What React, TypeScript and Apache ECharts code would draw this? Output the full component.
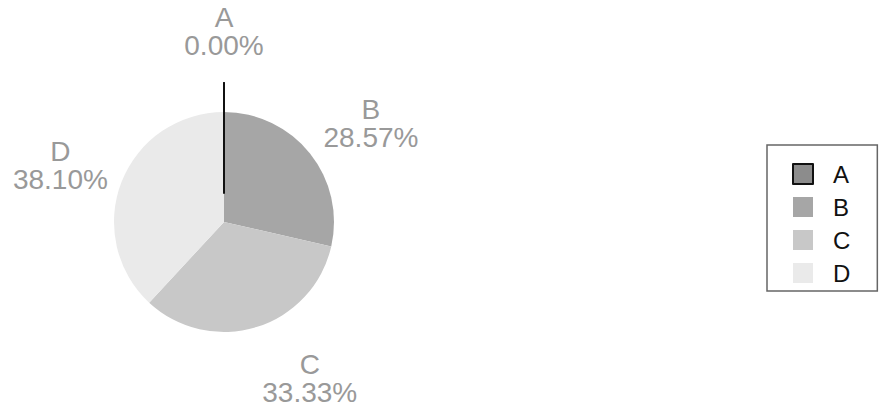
import React, { useEffect, useRef } from "react";
import * as echarts from "echarts";

const categories = ["A", "B", "C", "D"];
const values = [0, 6, 7, 8];
const sliceColors = ["#8c8c8c", "#a6a6a6", "#c8c8c8", "#eaeaea"];

export default function App() {
  const ref = useRef<HTMLDivElement>(null);

  useEffect(() => {
    const chart = echarts.init(ref.current!, null, { renderer: "svg" });
    const pieData = categories.map((name, i) => ({
      name,
      value: values[i],
      selected: i === 0,
      itemStyle:
        i === 0
          ? { color: sliceColors[i], borderColor: "#111", borderWidth: 2 }
          : { color: sliceColors[i] },
    }));
    // overlay: only the (zero-width, offset) A slice edge drawn on top
    const overlayData = categories.map((name, i) => ({
      name,
      value: values[i],
      selected: i === 0,
      itemStyle:
        i === 0
          ? { color: "rgba(0,0,0,0)", borderColor: "#111", borderWidth: 2 }
          : { color: "rgba(0,0,0,0)", borderWidth: 0 },
    }));
    const labelData = categories.map((name, i) => ({ name, value: values[i] }));
    const labelNudge = [
      [0, -12],
      [7, 13],
      [33, -15],
      [3, 9],
    ];

    chart.setOption({
      animation: false,
      backgroundColor: "#ffffff",
      legend: {
        orient: "vertical",
        left: 767,
        top: 145,
        padding: [17, 27, 6, 25],
        itemGap: 9,
        itemWidth: 20,
        itemHeight: 20,
        borderColor: "#666",
        borderWidth: 1.5,
        icon: "rect",
        data: categories,
        textStyle: {
          fontFamily: "'Liberation Sans', Arial, sans-serif",
          fontSize: 24,
          color: "#111",
          padding: [0, 0, 0, 15],
        },
      },
      series: [
        {
          type: "pie",
          center: [224, 222],
          radius: 110,
          startAngle: 90,
          clockwise: true,
          selectedMode: "single",
          selectedOffset: 29,
          label: { show: false },
          labelLine: { show: false },
          emphasis: { disabled: true },
          data: pieData,
        },
        {
          type: "pie",
          z: 3,
          center: [224, 222],
          radius: 110,
          startAngle: 90,
          clockwise: true,
          silent: true,
          selectedMode: "single",
          selectedOffset: 29,
          label: { show: false },
          labelLine: { show: false },
          emphasis: { disabled: true },
          data: overlayData,
        },
        {
          type: "pie",
          center: [224, 222],
          radius: [142, 210],
          startAngle: 90,
          clockwise: true,
          silent: true,
          avoidLabelOverlap: false,
          itemStyle: { color: "rgba(0,0,0,0)" },
          emphasis: { disabled: true },
          labelLine: { show: false },
          label: {
            show: true,
            position: "inside",
            formatter: (p: any) => `${p.name}\n${p.percent.toFixed(2)}%`,
            fontFamily: "'Liberation Sans', Arial, sans-serif",
            fontSize: 28,
            lineHeight: 28,
            color: "#999",
            align: "center",
          },
          labelLayout: (params: any) => ({
            dx: labelNudge[params.dataIndex][0],
            dy: labelNudge[params.dataIndex][1],
          }),
          data: labelData,
        },
      ],
    });
    return () => chart.dispose();
  }, []);

  return (
    <div
      ref={ref}
      style={{ position: "fixed", left: 0, top: 0, width: 881, height: 407, background: "#fff" }}
    />
  );
}
